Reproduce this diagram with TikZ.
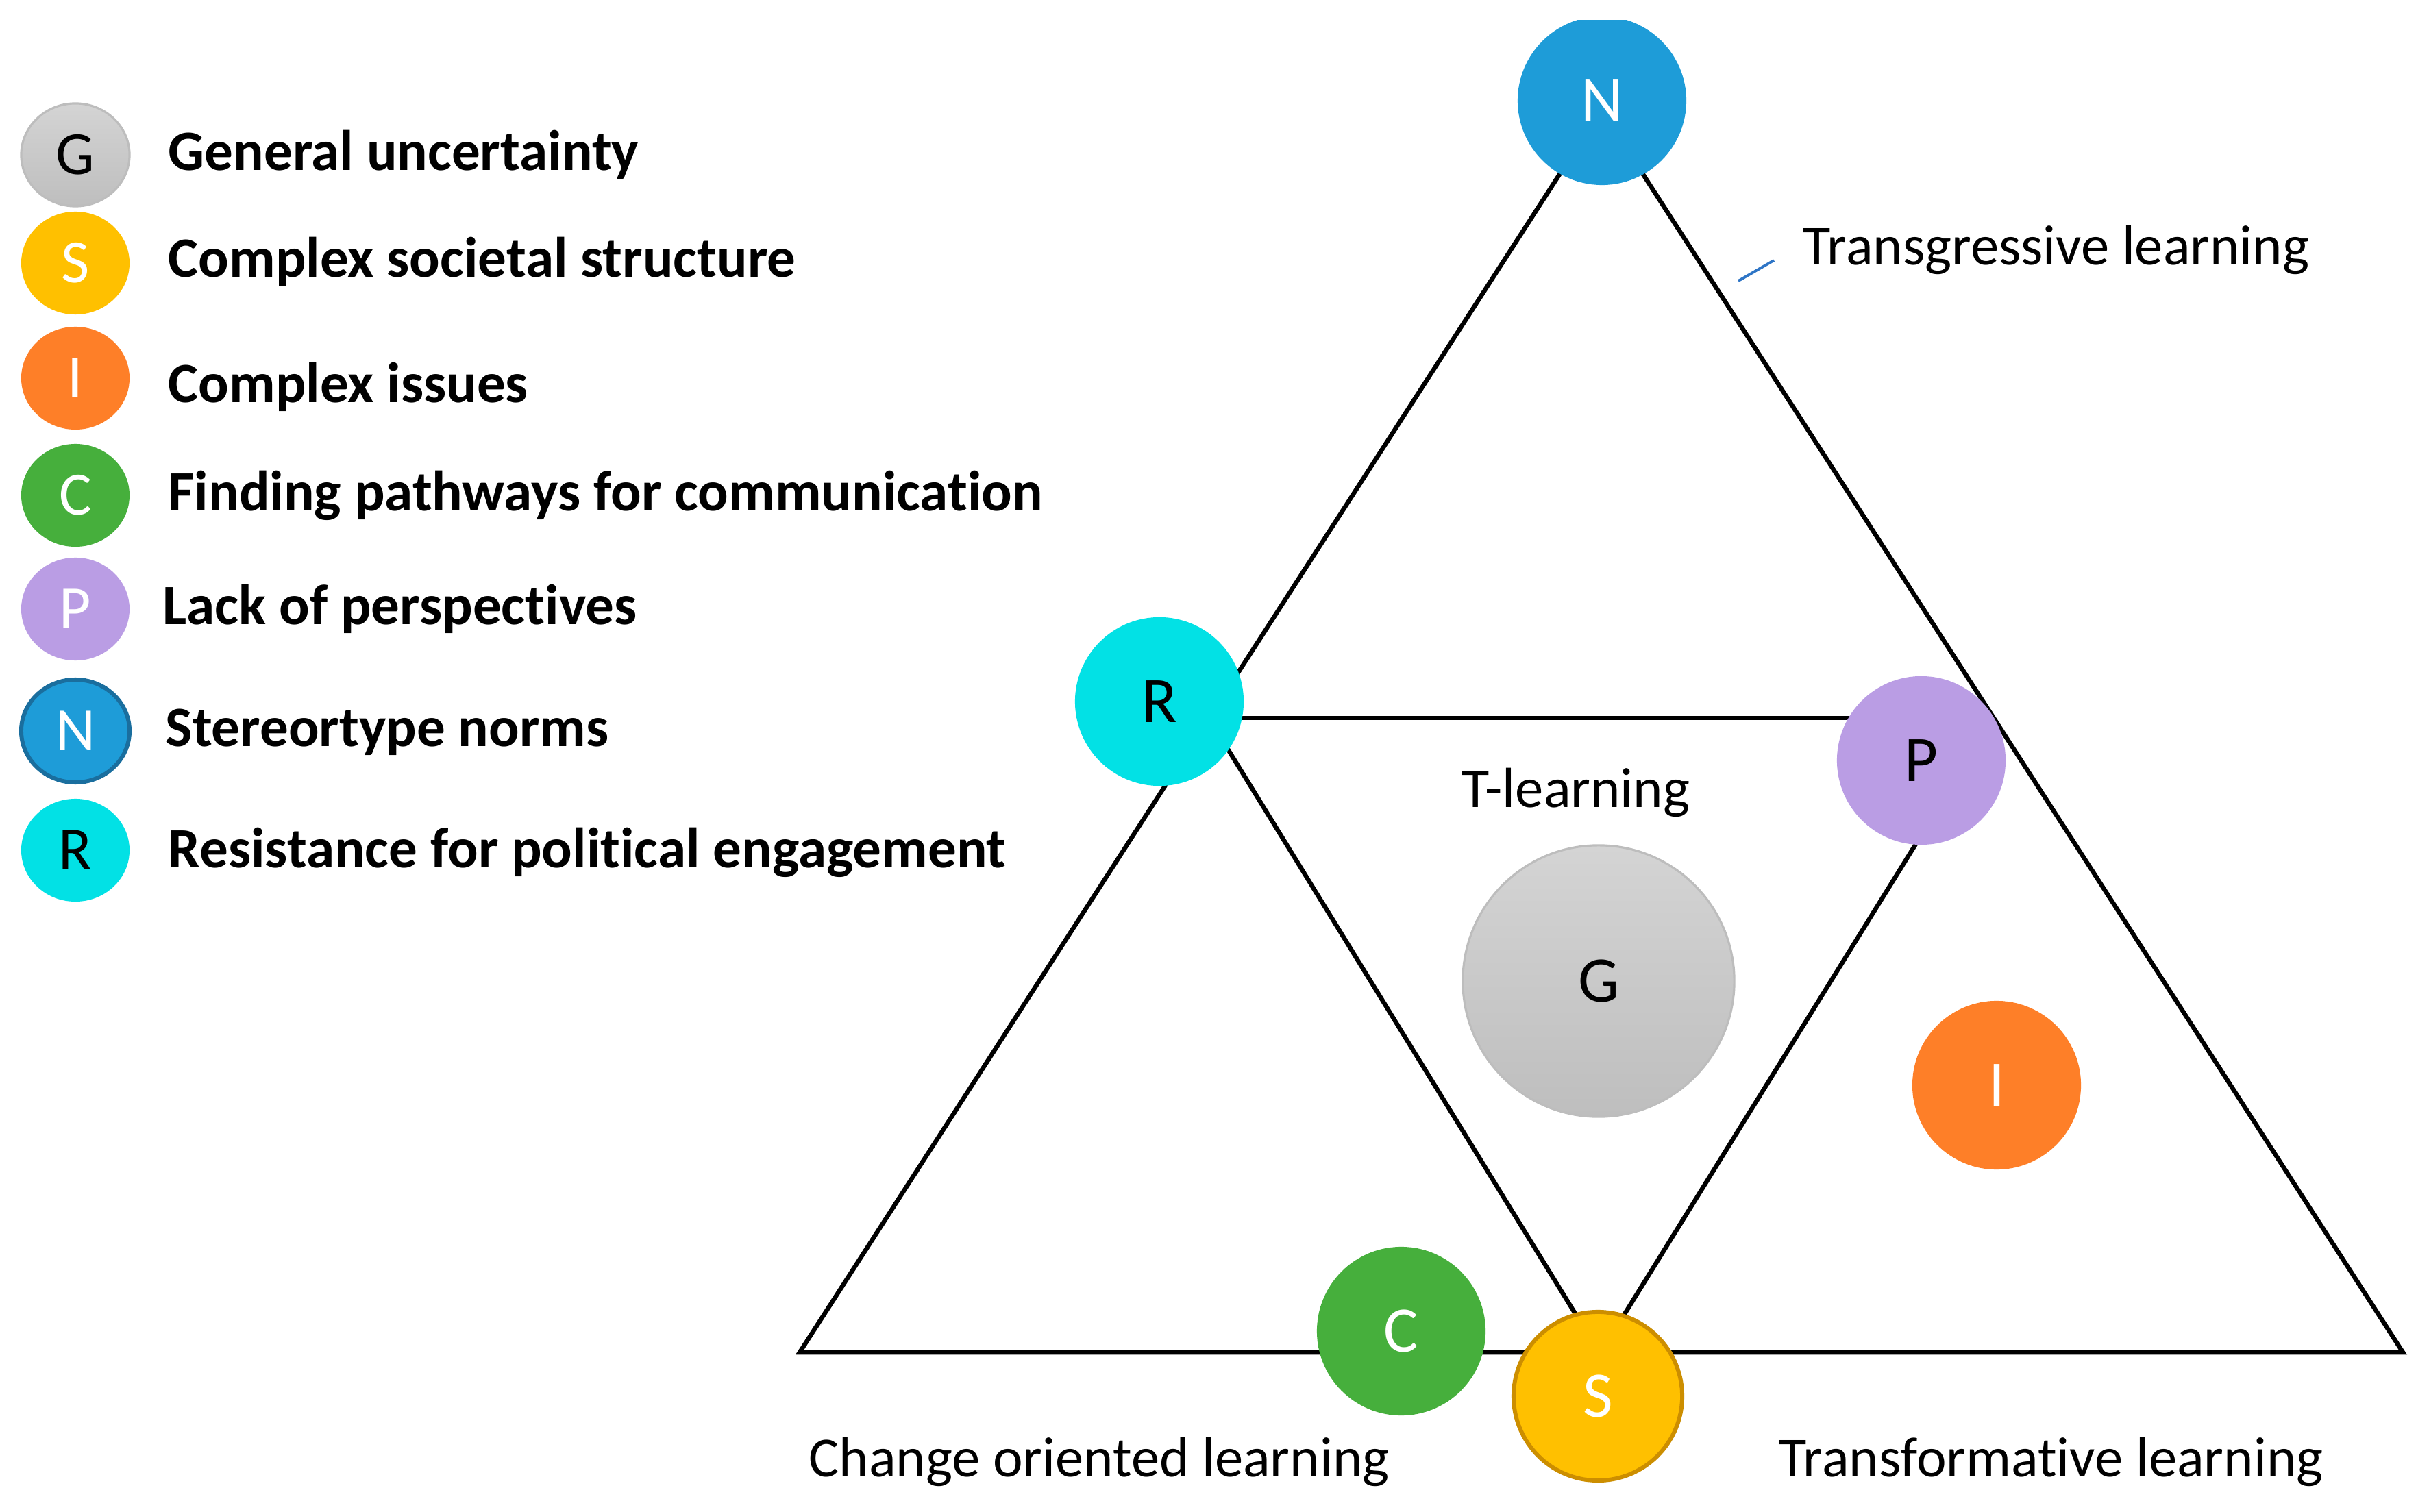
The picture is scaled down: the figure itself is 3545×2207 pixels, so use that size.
\documentclass[tikz,border=0pt]{standalone}
\usepackage{fontspec}
\setmainfont{Carlito}[Ligatures=NoCommon]
\usetikzlibrary{shapes.geometric}
\definecolor{cN}{HTML}{1E9CD8}
\definecolor{cNd}{HTML}{1A6E9E}
\definecolor{cR}{HTML}{02E1E5}
\definecolor{cP}{HTML}{BA9DE4}
\definecolor{cI}{HTML}{FE7F28}
\definecolor{cC}{HTML}{46AF3C}
\definecolor{cS}{HTML}{FFC000}
\definecolor{cSd}{HTML}{CC8E00}
\definecolor{cGt}{HTML}{D4D4D4}
\definecolor{cGb}{HTML}{BEBEBE}
\definecolor{cGd}{HTML}{BDBDBD}
\definecolor{tick}{HTML}{2E75C6}
\begin{document}
\begin{tikzpicture}[x=0.01cm,y=-0.01cm,
  edge/.style={line width=1.85pt, black},
  bigc/.style={circle, minimum size=2.46cm, inner sep=0pt, font=\fontsize{27}{30}\selectfont},
  legc/.style={ellipse, minimum width=1.58cm, minimum height=1.5cm, inner sep=0pt, font=\fontsize{25.5}{28}\selectfont},
  legtxt/.style={anchor=base west, inner sep=0pt, font=\fontsize{23.65}{28}\selectfont\bfseries},
  lbl/.style={inner sep=0pt, font=\fontsize{23.5}{28}\selectfont}]
\useasboundingbox[fill=white] (0,0) rectangle (3545,2207);

% triangle corners
\coordinate (A) at (2337,160);
\coordinate (BL) at (1167,1974);
\coordinate (BR) at (3507,1974);
\coordinate (M1) at (1764,1048);
\coordinate (M2) at (2910,1048);
\coordinate (M3) at (2335,1976);
\draw[edge, line join=miter] (A) -- (BL) -- (BR) -- cycle;
\draw[edge] (M1) -- (M2);
\draw[edge, line join=miter] (M1) -- (M3) -- (M2);

% labels
\coordinate (tk1) at (2589,380);
\coordinate (tk2) at (2537,410);
\draw[tick, line width=1.1pt] (tk1) -- (tk2);
\node[lbl, anchor=base west] (trg) at (2631,387) {Transgressive learning};
\node[lbl, anchor=base] (tl) at (2300,1178) {T-learning};
\node[lbl, anchor=base west] (col) at (1180,2155) {Change oriented learning};
\node[lbl, anchor=base west] (trf) at (2596,2155) {Transformative learning};

% main circles
\begin{scope}
\clip (0,30) rectangle (3545,2207);
\node[bigc, fill=cN, text=white] (N) at (2338,147) {N};
\end{scope}
\node[bigc, fill=cR, text=black] (R) at (1692,1024) {R};
\node[bigc, fill=cP, text=black] (P) at (2804,1110) {P};
\node[bigc, fill=cI, text=white] (I) at (2914,1584) {I};
\node[circle, minimum size=3.96cm, inner sep=0pt, top color=cGt, bottom color=cGb, draw=cGd, line width=0.9pt, font=\fontsize{27}{30}\selectfont] (G) at (2333,1432) {G};
\node[bigc, fill=cC, text=white] (C) at (2045,1943) {C};
\node[bigc, fill=cS, draw=cSd, line width=1.7pt, text=white] (S) at (2332,2038) {S};

% legend
\node[legc, top color=cGt, bottom color=cGb, draw=cGd, line width=0.9pt] (lG) at (110,226) {G};
\node[legc, fill=cS, text=white] (lS) at (110,384) {S};
\node[legc, fill=cI, text=white] (lI) at (110,552) {I};
\node[legc, fill=cC, text=white] (lC) at (110,723) {C};
\node[legc, fill=cP, text=white] (lP) at (110,889) {P};
\node[legc, fill=cN, draw=cNd, line width=1.7pt, text=white] (lN) at (110,1067) {N};
\node[legc, fill=cR, text=black] (lR) at (110,1241) {R};

\node[legtxt] (tG) at (245,249) {General uncertainty};
\node[legtxt] (tS) at (245,405) {Complex societal structure};
\node[legtxt] (tI) at (245,588) {Complex issues};
\node[legtxt] (tC) at (245,746) {Finding pathways for communication};
\node[legtxt] (tP) at (237,912) {Lack of perspectives};
\node[legtxt] (tN) at (241,1090) {Stereortype norms};
\node[legtxt] (tR) at (245,1266) {Resistance for political engagement};
\end{tikzpicture}
\end{document}
